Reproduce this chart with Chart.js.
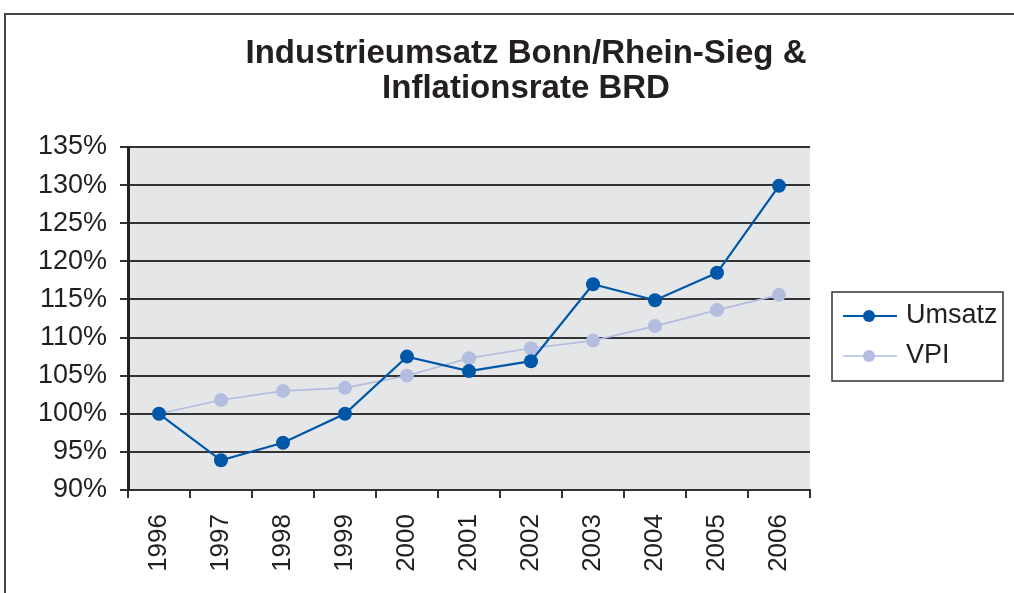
<!DOCTYPE html>
<html>
<head>
<meta charset="utf-8">
<script src="https://cdn.jsdelivr.net/npm/chart.js@4/dist/chart.umd.min.js"></script>
<style>
  html, body { margin: 0; padding: 0; background: #fff; overflow: hidden; }
  #wrap { position: relative; width: 1014px; height: 593px; }
  #frame { position: absolute; left: 4px; top: 13px; width: 1100px; height: 700px;
           border-left: 2px solid #444; border-top: 2px solid #444; }
  canvas { position: absolute; left: 0; top: 0; }
</style>
</head>
<body>
<div id="wrap">
  <div id="frame"></div>
  <canvas id="myChart" width="1014" height="593"></canvas>
</div>
<script>
const years = ['1996', '1997', '1998', '1999', '2000', '2001', '2002', '2003', '2004', '2005', '2006'];
const umsatz = [100, 93.9, 96.2, 100, 107.5, 105.6, 106.9, 117.0, 114.9, 118.5, 129.9];
const vpi = [100, 101.8, 103.0, 103.4, 105.0, 107.3, 108.6, 109.6, 111.5, 113.6, 115.6];
const titleLines = ['Industrieumsatz Bonn/Rhein-Sieg &', 'Inflationsrate BRD'];
const yMin = 90, yMax = 135, yStep = 5;

const FONT = '"Liberation Sans", Arial, Helvetica, sans-serif';
const DARK = '#231f20';
const BLUE = '#0057a8';
const LILAC = '#b3bde0';

// plot background, title and legend box with line/marker samples
const decor = {
  id: 'decor',
  beforeDraw(chart) {
    const a = chart.chartArea;
    const ctx = chart.ctx;
    ctx.save();
    ctx.fillStyle = '#e5e6e8';
    ctx.fillRect(a.left, a.top, a.right - a.left, a.bottom - a.top);
    ctx.restore();
  },
  afterDraw(chart) {
    const ctx = chart.ctx;
    ctx.save();
    ctx.fillStyle = DARK;
    ctx.font = 'bold 33px ' + FONT;
    ctx.textAlign = 'center';
    ctx.textBaseline = 'middle';
    ctx.fillText(titleLines[0], 526, 54);
    ctx.fillText(titleLines[1], 526, 89);

    ctx.textAlign = 'left';
    ctx.strokeStyle = '#333';
    ctx.lineWidth = 1.5;
    ctx.strokeRect(832, 292, 171, 89);
    const items = [
      { label: 'Umsatz', color: BLUE, width: 2, y: 316 },
      { label: 'VPI', color: LILAC, width: 1.5, y: 356 }
    ];
    items.forEach(it => {
      ctx.strokeStyle = it.color;
      ctx.lineWidth = it.width;
      ctx.beginPath();
      ctx.moveTo(843, it.y);
      ctx.lineTo(897, it.y);
      ctx.stroke();
      ctx.fillStyle = it.color;
      ctx.beginPath();
      ctx.arc(869, it.y, 6, 0, Math.PI * 2);
      ctx.fill();
      ctx.fillStyle = DARK;
      ctx.font = '27px ' + FONT;
      ctx.fillText(it.label, 906, it.y);
    });
    ctx.restore();
  }
};

const ctx = document.getElementById('myChart').getContext('2d');
new Chart(ctx, {
  type: 'line',
  data: {
    labels: years,
    datasets: [
      { label: 'Umsatz', data: umsatz, borderColor: BLUE, backgroundColor: BLUE, borderWidth: 2.2,
        pointRadius: 7, pointBackgroundColor: BLUE, pointBorderWidth: 0, tension: 0, order: 1 },
      { label: 'VPI', data: vpi, borderColor: LILAC, backgroundColor: LILAC, borderWidth: 1.6,
        pointRadius: 7, pointBackgroundColor: LILAC, pointBorderWidth: 0, tension: 0, order: 2 }
    ]
  },
  options: {
    responsive: false,
    animation: false,
    layout: { padding: { left: 0, right: 204, top: 147, bottom: 0 } },
    plugins: {
      legend: { display: false },
      tooltip: { enabled: false },
      title: { display: false }
    },
    scales: {
      x: {
        offset: true,
        grid: { display: true, drawOnChartArea: false, color: '#333', lineWidth: 2, tickLength: 8, offset: true },
        border: { display: true, color: '#333', width: 2 },
        ticks: { color: DARK, font: { family: FONT, size: 26 }, minRotation: 90, maxRotation: 90, padding: 16, autoSkip: false },
        afterFit(scale) { scale.height = 103; }
      },
      y: {
        min: yMin,
        max: yMax,
        grid: { color: '#333', lineWidth: 2, tickLength: 8 },
        border: { display: true, color: '#222', width: 3 },
        ticks: {
          stepSize: yStep,
          color: DARK,
          padding: 13,
          font: { family: FONT, size: 27 },
          callback: v => v + '%'
        },
        afterFit(scale) { scale.width = 128; }
      }
    }
  },
  plugins: [decor]
});
</script>
</body>
</html>
